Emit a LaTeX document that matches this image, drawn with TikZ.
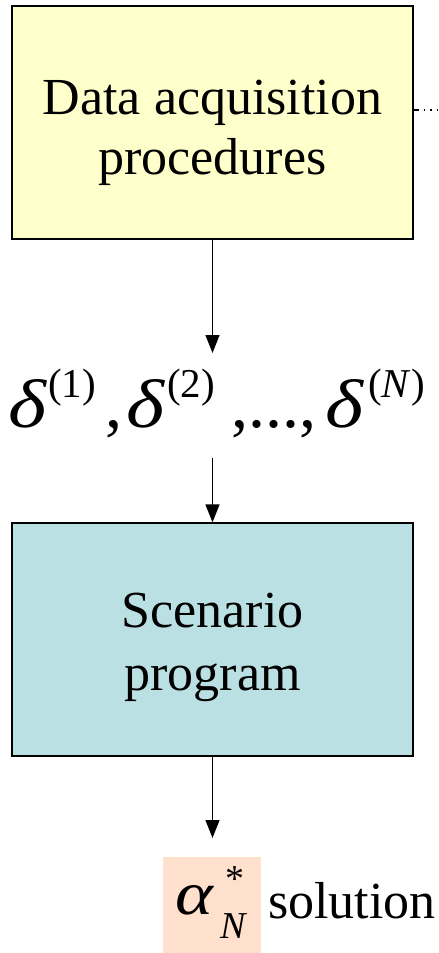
\documentclass[tikz,border=0pt]{standalone}
\usepackage{fontspec}
\usepackage{graphicx}
\setmainfont{Liberation Serif}
\usetikzlibrary{arrows.meta,calc}
\definecolor{boxyellow}{HTML}{FFFFCC}
\definecolor{boxteal}{HTML}{BBE0E3}
\definecolor{boxpink}{HTML}{FFE0CC}
\newcommand{\bigdelta}{\resizebox{39pt}{48pt}{\fontsize{68}{68}\selectfont\textit{δ}}}
\newcommand{\supr}[1]{\raisebox{30pt}{\fontsize{41}{41}\selectfont #1}}
\begin{document}
\begin{tikzpicture}[x=1pt,y=-1pt,
  blockbox/.style={draw=black,line width=1.3pt,minimum width=401pt,minimum height=233pt,inner sep=0pt},
  lbl/.style={font=\fontsize{52}{60}\selectfont,align=center,inner sep=0pt},
  flow/.style={line width=1.3pt,-{Triangle[length=18pt,width=14pt]}}]
\useasboundingbox (0,0) rectangle (439,953);
% boxes
\node[blockbox,fill=boxyellow] (b1) at (212.5,122.5) {};
\node[lbl] (t1) at (212.5,132.5) {Data acquisition\\procedures};
\node[blockbox,fill=boxteal] (b2) at (212.5,639.5) {};
\node[lbl,font=\fontsize{52}{63}\selectfont] (t2) at (212.5,647) {Scenario\\program};
% scenario list
\node[anchor=base west,inner sep=0pt,font=\fontsize{68}{68}\selectfont] (dl) at (8,427)
  {\makebox[40pt][l]{\bigdelta}\makebox[54pt][l]{\supr{(1)}}\makebox[24pt][l]{\hspace{3pt},}%
   \makebox[41pt][l]{\bigdelta}\makebox[64pt][l]{\supr{(2)}}\makebox[94pt][l]{,...,}%
   \makebox[43pt][l]{\bigdelta}\supr{(\textit{N})}};
% solution
\node[fill=boxpink,minimum width=98pt,minimum height=96pt,inner sep=0pt] (al) at (212,905) {};
\node[anchor=base west,inner sep=0pt,font=\fontsize{60}{60}\selectfont] (alt) at (175,914)
  {\resizebox{39pt}{29pt}{\textit{α}}\hspace{6pt}\rlap{\hspace{5pt}\raisebox{23pt}{\fontsize{38}{38}\selectfont *}}\raisebox{-24pt}{\fontsize{38}{38}\selectfont\textit{N}}};
\node[anchor=base west,inner sep=0pt,font=\fontsize{52}{60}\selectfont] (sol) at (268,918) {solution};
% connectors
\coordinate (d1) at (212.5,353);
\coordinate (d2) at (212.5,458);
\coordinate (d3) at (212.5,838);
\coordinate (dotend) at (439,110);
\draw[flow] (b1.south) -- (d1);
\draw[flow] (d2) -- (b2.north);
\draw[flow] (b2.south) -- (d3);
\draw[line width=1.3pt,dash pattern=on 5pt off 5pt on 1.5pt off 5pt on 1.5pt off 5pt on 1.5pt off 50pt] (b1.east |- dotend) -- (dotend);
\end{tikzpicture}
\end{document}
